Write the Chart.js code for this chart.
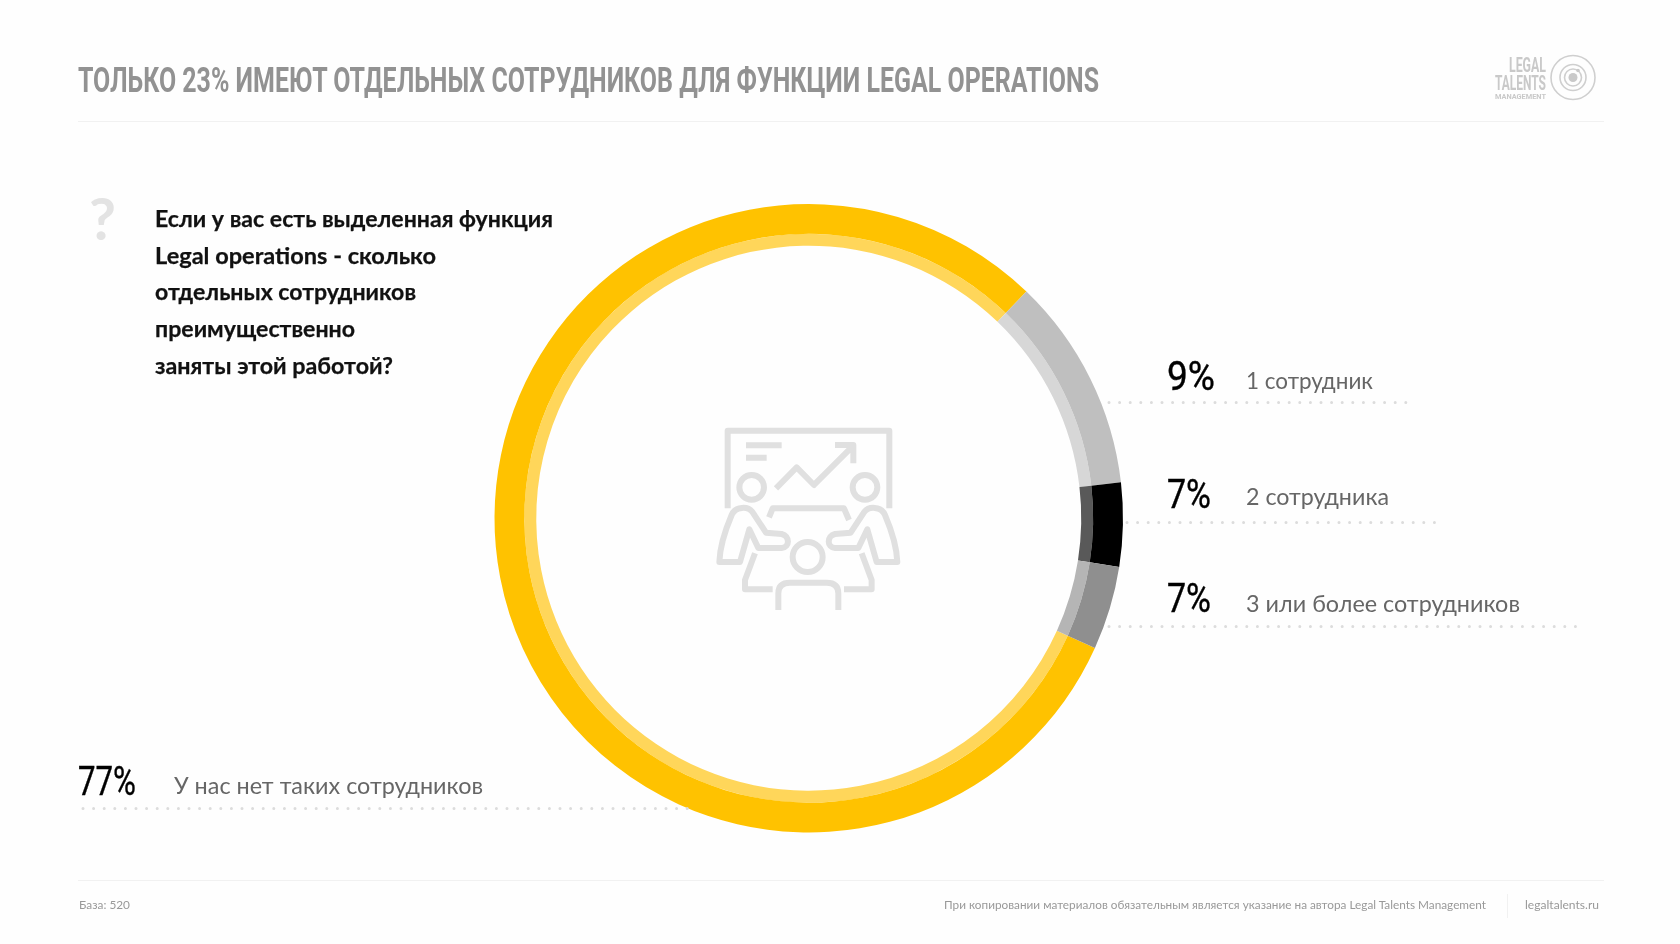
<!DOCTYPE html>
<html lang="ru">
<head>
<meta charset="utf-8">
<title>Legal operations</title>
<script src="https://cdn.jsdelivr.net/npm/chart.js@4"></script>
<style>
html, body { margin: 0; padding: 0; width: 1680px; height: 944px; background: #fefefe; overflow: hidden; }
#ring { position: absolute; left: 0; top: 0; }
#overlay { position: absolute; left: 0; top: 0; pointer-events: none; }
.title { font: 700 35px "Roboto", "Liberation Sans Narrow", sans-serif; fill: #929292; }
.question { font: 700 23px "Lato", "Open Sans", sans-serif; fill: #111; stroke: #111; stroke-width: 0.25; }
.pct { font: 400 41px "Liberation Sans Narrow", "Roboto", sans-serif; fill: #000; stroke: #000; stroke-width: 0.4; }
.cat { font: 400 23px "Lato", "Open Sans", sans-serif; fill: #666; }
.foot { font: 400 12px "Lato", "Open Sans", sans-serif; fill: #999; }
.logo { font-family: "Liberation Sans Narrow", "Roboto", sans-serif; font-weight: 700; fill: #c9c9c9; }
.dots { stroke: #dcdcdc; stroke-width: 3; stroke-linecap: round; stroke-dasharray: 0 10.6; fill: none; }
.icon * { fill: none; stroke: #e0e0e0; stroke-width: 18; stroke-linejoin: round; }
</style>
</head>
<body>
<canvas id="ring" width="1680" height="944"></canvas>
<svg id="overlay" width="1680" height="944" viewBox="0 0 1680 944" xmlns="http://www.w3.org/2000/svg">
  <text class="title" x="78" y="92" textLength="1021" lengthAdjust="spacingAndGlyphs">ТОЛЬКО 23% ИМЕЮТ ОТДЕЛЬНЫХ СОТРУДНИКОВ ДЛЯ ФУНКЦИИ LEGAL OPERATIONS</text>
  <line x1="78" x2="1604" y1="121.5" y2="121.5" stroke="#f1f1f1"/>
  <line x1="78" x2="1604" y1="880.5" y2="880.5" stroke="#f1f1f1"/>
  <line x1="1507.5" x2="1507.5" y1="894" y2="918" stroke="#f1f1f1"/>

  <!-- logo -->
  <text class="logo" x="1509" y="72" font-size="20" textLength="37" lengthAdjust="spacingAndGlyphs">LEGAL</text>
  <text class="logo" x="1495" y="90" font-size="20" textLength="51" lengthAdjust="spacingAndGlyphs">TALENTS</text>
  <text class="logo" x="1495" y="99" font-size="7" textLength="51" lengthAdjust="spacingAndGlyphs">MANAGEMENT</text>
  <g fill="none" stroke="#cfcfcf" stroke-width="1.6">
    <circle cx="1573" cy="77.5" r="22"/>
    <circle cx="1573" cy="77.5" r="13"/>
    <circle cx="1573" cy="77.5" r="8.5"/>
  </g>
  <circle cx="1573" cy="77.5" r="4.5" fill="#c9c9c9"/>
  <circle cx="1578" cy="70.5" r="1.8" fill="#c9c9c9"/>

  <!-- question -->
  <text x="89" y="240" font-family="Lato, 'Open Sans', sans-serif" font-weight="700" font-size="58" fill="#e3e3e3" textLength="27" lengthAdjust="spacingAndGlyphs">?</text>
  <g id="question"></g>

  <!-- value labels -->
  <g id="labels"></g>

  <!-- centre icon -->
  <g class="icon" transform="translate(690 410) scale(0.3333)">
    <path d="M113 295V62H598V295"/>
    <path d="M168 106H275M168 143H230" />
    <path d="M258 235L320 172L372 225L490 107M435 105H490V160"/>
    <circle cx="185" cy="232" r="37"/>
    <circle cx="525" cy="232" r="37"/>
    <circle cx="353" cy="441" r="45"/>
    <path d="M237 322L248 295H462L477 330"/>
    <path d="M150 456H88C90 400 110 350 125 315C135 290 175 285 190 310L228 368L275 372C300 378 300 412 275 414H205L178 358Z"/>
    <path d="M560 456H622C620 400 600 350 585 315C575 290 535 285 520 310L482 368L435 372C410 378 410 412 435 414H505L532 358Z"/>
    <path d="M195 430L165 510V538H248M515 430L545 510V538H462"/>
    <path d="M265 600V550Q265 518 300 518H410Q445 518 445 550V600"/>
  </g>

  <text class="foot" x="79" y="909" textLength="51" lengthAdjust="spacingAndGlyphs">База: 520</text>
  <text class="foot" x="944" y="909" textLength="542" lengthAdjust="spacingAndGlyphs">При копировании материалов обязательным является указание на автора Legal Talents Management</text>
  <text class="foot" x="1525" y="909" textLength="74" lengthAdjust="spacingAndGlyphs">legaltalents.ru</text>
</svg>

<script>
const categories = ['У нас нет таких сотрудников', '1 сотрудник', '2 сотрудника', '3 или более сотрудников'];
// what the labels say
const percents = [77, 9, 7, 7];
// share of the ring each slice really takes up in the picture (not the same as the labels)
const ringShares = [80.4, 11, 4.3, 4.3];
const outerColors = ['#ffc200', '#bfbfbf', '#000000', '#8f8f8f'];
const innerColors = ['#ffd65a', '#d7d7d7', '#595959', '#b5b5b5'];
const questionLines = ['Если у вас есть выделенная функция', 'Legal operations - сколько', 'отдельных сотрудников', 'преимущественно', 'заняты этой работой?'];

// x/baseline/width of each label row, and the dotted line under it
const rows = [
    { px: 78, pw: 58, py: 795, cx: 174, cw: 309, cy: 794, dy: 808.5, d1: 83, d2: 694 },
    { px: 1167, pw: 48, py: 390, cx: 1246, cw: 127, cy: 389, dy: 402.5, d1: 1109, d2: 1406 },
    { px: 1167, pw: 44, py: 508, cx: 1246, cw: 143, cy: 505, dy: 522.5, d1: 1127, d2: 1436 },
    { px: 1167, pw: 44, py: 612, cx: 1246, cw: 274, cy: 612, dy: 626.5, d1: 1109, d2: 1577 }
];

const svgNs = 'http://www.w3.org/2000/svg';
function addSvg(parent, tag, attrs, text) {
    const el = document.createElementNS(svgNs, tag);
    for (const k in attrs) el.setAttribute(k, attrs[k]);
    if (text) el.textContent = text;
    parent.appendChild(el);
    return el;
}

const questionGroup = document.getElementById('question');
const questionWidths = [398, 281, 261, 200, 238];
questionLines.forEach((line, i) => {
    addSvg(questionGroup, 'text', { class: 'question', x: 155, y: 227 + i * 36.7, textLength: questionWidths[i], lengthAdjust: 'spacingAndGlyphs' }, line);
});

const labelGroup = document.getElementById('labels');
categories.forEach((name, i) => {
    const r = rows[i];
    addSvg(labelGroup, 'line', { class: 'dots', x1: r.d1, x2: r.d2, y1: r.dy, y2: r.dy });
    addSvg(labelGroup, 'text', { class: 'pct', x: r.px, y: r.py, textLength: r.pw, lengthAdjust: 'spacingAndGlyphs' }, percents[i] + '%');
    addSvg(labelGroup, 'text', { class: 'cat', x: r.cx, y: r.cy, textLength: r.cw, lengthAdjust: 'spacingAndGlyphs' }, name);
});

// Doughnut: outer ring + thin lighter ring inside it
new Chart(document.getElementById('ring').getContext('2d'), {
    type: 'doughnut',
    data: {
        labels: categories,
        datasets: [
            { data: ringShares, backgroundColor: outerColors, borderWidth: 0, weight: 30 },
            { data: ringShares, backgroundColor: innerColors, borderWidth: 0, weight: 12 }
        ]
    },
    options: {
        responsive: false,
        animation: false,
        rotation: 114.4,
        cutout: 272.5,
        layout: { padding: { left: 494.5, right: 557, top: 204, bottom: 111.5 } },
        plugins: { legend: { display: false }, tooltip: { enabled: false } }
    }
});
</script>
</body>
</html>
